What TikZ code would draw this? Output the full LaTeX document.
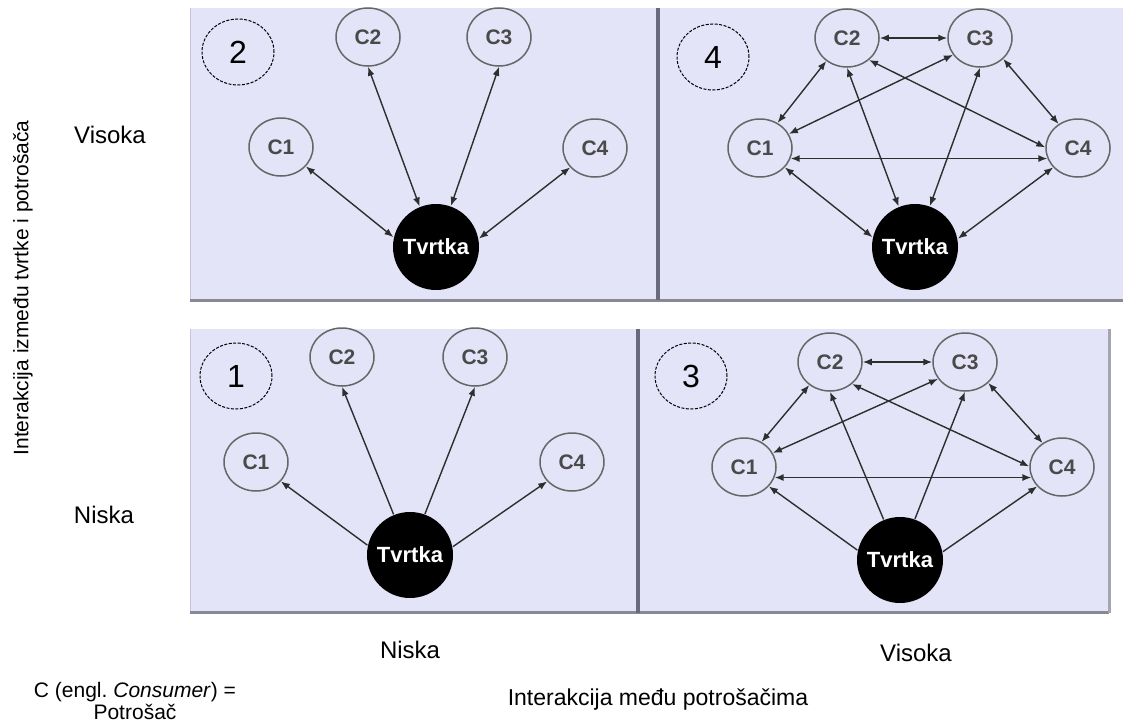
\documentclass[tikz,border=0pt]{standalone}
\usepackage{fontspec}
\setmainfont{Liberation Sans}
\usetikzlibrary{arrows.meta,shapes.geometric}

\definecolor{panelfill}{HTML}{E4E4F8}
\definecolor{panelshade}{HTML}{6A6A7C}
\definecolor{panelrim}{HTML}{C4C4DC}
\definecolor{ringgray}{HTML}{666666}
\definecolor{labelgray}{HTML}{4A4A4A}
\definecolor{linkgray}{HTML}{2E2E2E}

\newcommand{\sizedfont}[1]{\fontsize{#1}{#1}\selectfont}
% spokes from the firm to the four consumers
\newcommand{\drawSpokes}[2]{
  \draw[#2] (#1F.167) -- (#1C1.-38);
  \draw[#2] (#1F.112) -- (#1C2.south);
  \draw[#2] (#1F.70) -- (#1C3.south);
  \draw[#2] (#1F.11) -- (#1C4.-142);
}
% links among the consumers
\newcommand{\drawMesh}[1]{
  \draw[link] (#1C1.55) -- (#1C2.228);
  \draw[link] (#1C2) -- (#1C3);
  \draw[link] (#1C3.-42) -- (#1C4.129);
  \draw[link] (#1C1.26) -- (#1C3.212);
  \draw[link] (#1C2.-45) -- (#1C4.179);
  \draw[link] (#1C1.-19) -- (#1C4.199);
}

\tikzset{
  consumer/.style={ellipse, draw=ringgray, line width=1.5pt, minimum width=64pt, minimum height=58pt, inner sep=0pt, text=labelgray, font=\sizedfont{21}\bfseries},
  firm/.style={circle, fill=black, minimum size=86pt, inner sep=0pt, text=white, font=\sizedfont{22}\bfseries},
  quadrant/.style={ellipse, draw, dash pattern=on 3pt off 1.5pt, line width=1pt, minimum width=72pt, minimum height=66pt, font=\sizedfont{32}},
  link/.style={{Latex[length=9pt,width=7pt]}-{Latex[length=9pt,width=7pt]}, draw=linkgray},
  oneway/.style={-{Latex[length=9pt,width=7pt]}, draw=linkgray},
  axistext/.style={font=\sizedfont{24}}
}

\begin{document}
\begin{tikzpicture}[x=1pt, y=-1pt, line width=1.4pt]
  \useasboundingbox (0,0) rectangle (1123,725);

  % Panels
  \fill[panelfill] (190,8) rectangle (658,300);
  \fill[panelfill] (658,8) rectangle (1126,300);
  \fill[panelfill] (190,329) rectangle (638,613);
  \fill[panelfill] (638,329) rectangle (1109,613);
  \draw[panelrim, line width=1pt] (190.5,300) -- (190.5,8);
  \draw[panelrim, line width=1pt] (190.5,613) -- (190.5,329);
  \draw[panelshade!80, line width=3pt] (190,300) -- (1126,300);
  \draw[panelshade!80, line width=3pt] (190,612) -- (1109,612);
  \draw[panelshade, line width=4pt] (658,8) -- (658,300);
  \draw[panelshade, line width=4pt] (638,329) -- (638,613);
  \draw[panelshade!60, line width=3pt] (1109,329) -- (1109,613);

  % Axis texts
  \node[axistext, font=\sizedfont{21}, rotate=90] (yaxis) at (23,288) {Interakcija između tvrtke i potrošača};
  \node[axistext] (yhigh) at (110,135) {Visoka};
  \node[axistext] (ylow) at (104,515) {Niska};
  \node[axistext] (xlow) at (410,650) {Niska};
  \node[axistext] (xhigh) at (916,653) {Visoka};
  \node[axistext, font=\sizedfont{23}] (xaxis) at (658,700) {Interakcija među potrošačima};
  \node[align=center, font=\fontsize{21}{22}\selectfont] (legend) at (135,701) {C (engl.\ \textit{Consumer}) =\\Potrošač};

  % Panel 2
  \node[quadrant] (p2N) at (238,52) {2};
  \node[consumer] (p2C1) at (281,147) {C1};
  \node[consumer] (p2C2) at (368,37) {C2};
  \node[consumer] (p2C3) at (499,37) {C3};
  \node[consumer] (p2C4) at (595,148) {C4};
  \node[firm] (p2F) at (436,247) {Tvrtka};
  \drawSpokes{p2}{link}

  % Panel 4
  \node[quadrant] (p4N) at (713,57) {4};
  \node[consumer] (p4C1) at (760,148) {C1};
  \node[consumer] (p4C2) at (847,38) {C2};
  \node[consumer] (p4C3) at (980,38) {C3};
  \node[consumer] (p4C4) at (1078,148) {C4};
  \node[firm] (p4F) at (915,247) {Tvrtka};
  \drawMesh{p4}
  \drawSpokes{p4}{link}

  % Panel 1
  \node[quadrant] (p1N) at (236,376) {1};
  \node[consumer] (p1C1) at (256,462) {C1};
  \node[consumer] (p1C2) at (342,357) {C2};
  \node[consumer] (p1C3) at (475,357) {C3};
  \node[consumer] (p1C4) at (572,462) {C4};
  \node[firm] (p1F) at (410,555) {Tvrtka};
  \drawSpokes{p1}{oneway}

  % Panel 3
  \node[quadrant] (p3N) at (691,376) {3};
  \node[consumer] (p3C1) at (744,467) {C1};
  \node[consumer] (p3C2) at (830,362) {C2};
  \node[consumer] (p3C3) at (965,362) {C3};
  \node[consumer] (p3C4) at (1062,467) {C4};
  \node[firm] (p3F) at (900,560) {Tvrtka};
  \drawMesh{p3}
  \drawSpokes{p3}{oneway}
\end{tikzpicture}
\end{document}
